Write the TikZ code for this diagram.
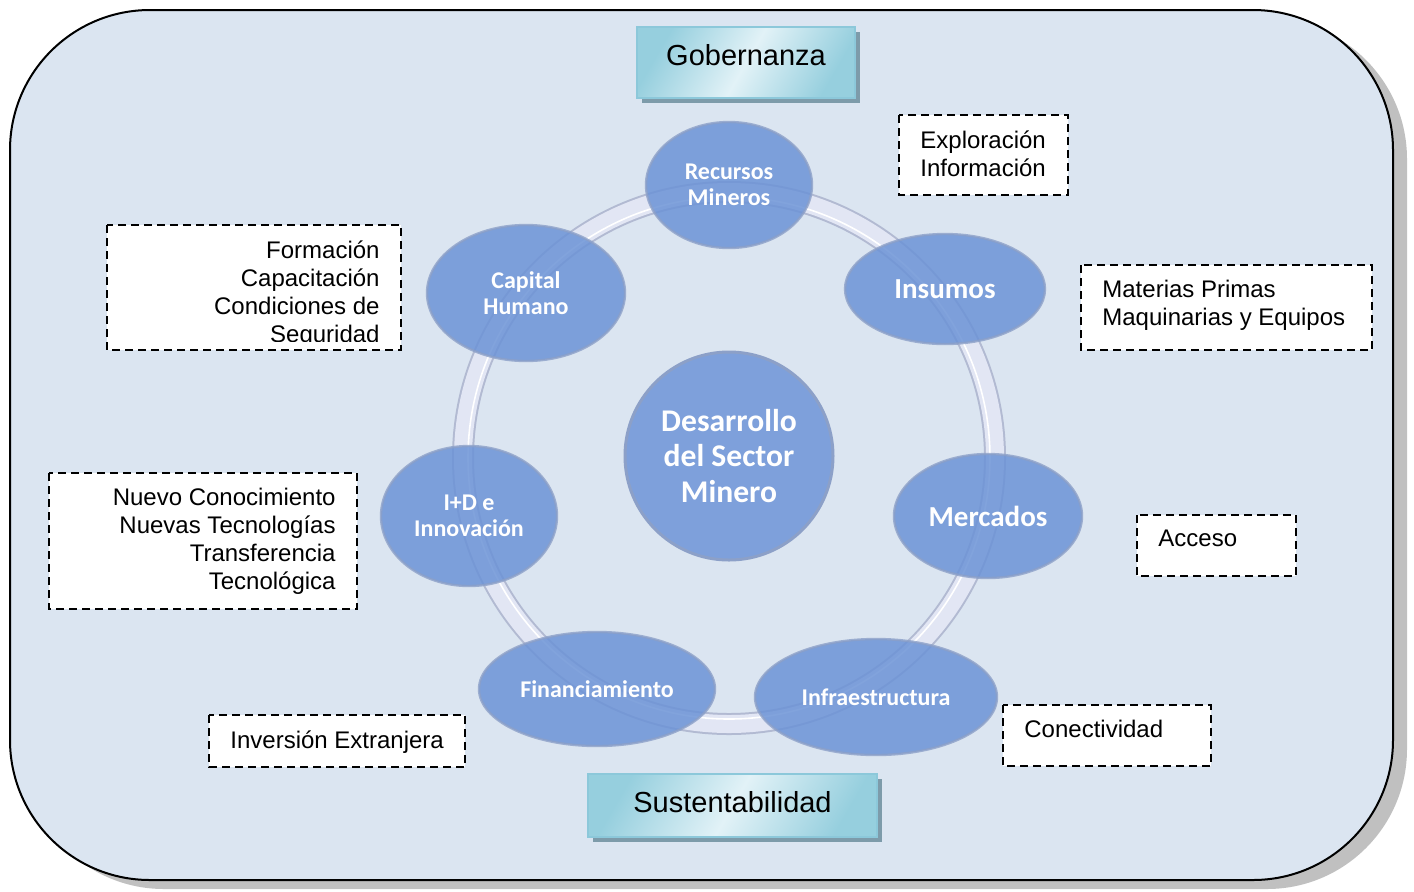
\documentclass[tikz,border=0pt]{standalone}
\usepackage{fontspec}
\setmainfont{Liberation Sans}
\newfontfamily\calib{Carlito}
\usetikzlibrary{shapes.geometric,shadows}
\definecolor{bgfill}{RGB}{219,229,241}
\definecolor{outshadow}{RGB}{192,192,192}
\definecolor{ellfill}{RGB}{108,147,214}
\definecolor{elledge}{RGB}{140,160,200}
\definecolor{ringedge}{RGB}{178,186,210}
\definecolor{ringfill}{RGB}{226,230,244}
\definecolor{cyandark}{RGB}{150,207,222}
\definecolor{cyanlight}{RGB}{226,242,247}
\definecolor{cyanborder}{RGB}{140,200,218}
\definecolor{boxshadow}{RGB}{125,155,170}
\tikzset{
  ell/.style={ellipse, inner sep=0pt, fill=ellfill, fill opacity=0.85,
    draw=elledge, line width=1.2pt, draw opacity=0.8, text opacity=1,
    text=white, font=\calib\bfseries\fontsize{12}{13}\selectfont, align=center},
  bigell/.style={ell, font=\calib\bfseries\fontsize{14.5}{16}\selectfont},
  titlebox/.style={rectangle, draw=cyanborder, line width=1pt,
    top color=cyandark, bottom color=cyandark, middle color=cyanlight,
    shading angle=60,
    drop shadow={shadow xshift=2.5pt, shadow yshift=-2.5pt, fill=boxshadow, opacity=1}},
  titletext/.style={font=\fontsize{14.5}{17}\selectfont, text=black, inner sep=0pt},
  notebox/.style={draw=black, line width=1pt, dash pattern=on 4pt off 2.5pt, fill=white},
  notetext/.style={inner sep=0pt, font=\fontsize{12}{14}\selectfont},
}
\begin{document}
\begin{tikzpicture}[x=0.5pt,y=-0.5pt]
\useasboundingbox (0,0) rectangle (1414,891);
% outer panel
\fill[outshadow, rounded corners=70pt] (24,19) rectangle (1407,889);
\draw[fill=bgfill, line width=1pt, rounded corners=70pt] (10,10) rectangle (1393,880);
% title boxes
\node[titlebox, minimum width=109pt, minimum height=35.5pt] (gob) at (746,62.5) {};
\node[titletext] (gobt) at (746,55) {Gobernanza};
\node[titlebox, minimum width=144.5pt, minimum height=31.5pt] (sus) at (732.5,805.5) {};
\node[titletext] (sust) at (732.5,802) {Sustentabilidad};
% ring
\coordinate (rc) at (729,458);
\draw[ringedge, line width=11pt] (rc) circle (266);
\draw[ringfill, line width=9pt] (rc) circle (266);
\draw[white, line width=0.8pt] (rc) circle (261);
% center
\node[circle, minimum size=104pt, inner sep=0pt, fill=ellfill!88!white, draw=elledge, line width=1.5pt,
  text=white, font=\calib\bfseries\fontsize{15.8}{17.75}\selectfont, align=center] (cen) at (729,456)
  {Desarrollo\\del Sector\\Minero};
% ellipses
\node[ell, minimum width=83pt, minimum height=63pt] (rec) at (729,185) {Recursos\\Mineros};
\node[ell, minimum width=99pt, minimum height=68pt] (cap) at (526,293) {Capital\\Humano};
\node[bigell, minimum width=100pt, minimum height=55pt] (ins) at (945,289) {Insumos};
\node[ell, minimum width=88pt, minimum height=70pt] (imd) at (469,516) {I+D e\\Innovación};
\node[bigell, minimum width=94pt, minimum height=62pt] (mer) at (988,516) {Mercados};
\node[ell, minimum width=118pt, minimum height=57pt] (fin) at (597,689) {Financiamiento};
\node[ell, minimum width=121pt, minimum height=58pt] (inf) at (876,697) {Infraestructura};
% note boxes
\draw[notebox] (899,115) rectangle (1068,195);
\node[notetext, anchor=north west, align=left] (n1) at (920,130) {Exploración\\Información};
\draw[notebox] (1081,265) rectangle (1372,350);
\node[notetext, anchor=north west, align=left] (n2) at (1102,280) {Materias Primas\\Maquinarias y Equipos};
\draw[notebox] (107,225) rectangle (401,350);
\begin{scope}
\clip (109,227) rectangle (399,341);
\node[notetext, anchor=north east, align=right] (n3) at (380,240) {Formación\\Capacitación\\Condiciones de\\Seguridad};
\end{scope}
\draw[notebox] (49,473) rectangle (357,609);
\node[notetext, anchor=north east, align=right] (n4) at (336,488) {Nuevo Conocimiento\\Nuevas Tecnologías\\Transferencia\\Tecnológica};
\draw[notebox] (1137,515) rectangle (1296,576);
\node[notetext, anchor=north west] (n5) at (1158,530) {Acceso};
\draw[notebox] (209,715) rectangle (465,767);
\node[notetext, anchor=north west] (n6) at (230,730) {Inversión Extranjera};
\draw[notebox] (1003,705) rectangle (1211,766);
\node[notetext, anchor=north west] (n7) at (1024,720) {Conectividad};
\end{tikzpicture}
\end{document}
